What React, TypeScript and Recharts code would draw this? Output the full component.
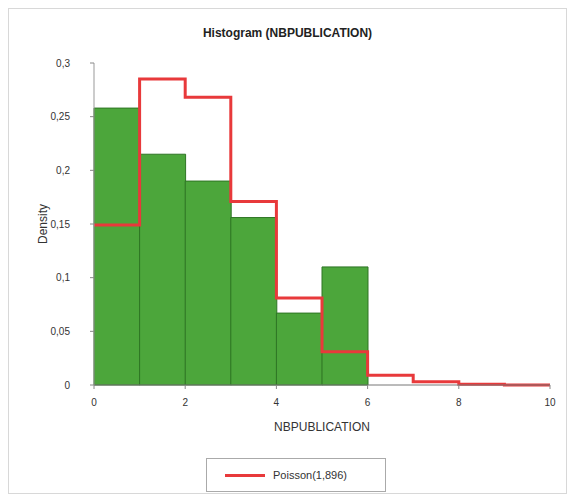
import { ComposedChart, Bar, Line, XAxis, YAxis } from 'recharts'

const binLabels = ['0-1', '1-2', '2-3', '3-4', '4-5', '5-6', '6-7', '7-8', '8-9', '9-10']
const densityValues = [0.258, 0.215, 0.19, 0.156, 0.067, 0.11, 0, 0, 0, 0]

const edgePoints = [0, 1, 2, 3, 4, 5, 6, 7, 8, 9, 10]
const poissonValues = [0.149, 0.285, 0.268, 0.171, 0.081, 0.031, 0.009, 0.003, 0.0007, 0.0001, 0.0001]

const xTicks = [0, 2, 4, 6, 8, 10]
const yTicks = [0, 0.05, 0.1, 0.15, 0.2, 0.25, 0.3]

const histData = binLabels.map((b, i) => ({ bin: b, density: densityValues[i] }))
const stepData = edgePoints.map((x, i) => ({ x, p: poissonValues[i] }))

const fmtComma = (v: number) => String(v).replace('.', ',')
const tickStyle = { fill: '#333', fontSize: 10, fontFamily: 'Liberation Sans, Arial, sans-serif' }

export default function App() {
  return (
    <div style={{
      position: 'relative', width: 557, height: 484, border: '1px solid #d8d8d8',
      fontFamily: 'Liberation Sans, Arial, sans-serif', background: '#fff',
    }}>
      <div style={{
        position: 'absolute', top: 17, left: 0, width: 557, textAlign: 'center',
        fontSize: 12, fontWeight: 'bold', color: '#222',
      }}>
        Histogram (NBPUBLICATION)
      </div>
      <ComposedChart width={557} height={484} data={histData}
        margin={{ top: 54, right: 16, left: 34, bottom: 78 }}
        barCategoryGap={0} barGap={0}>
        <XAxis xAxisId="cat" dataKey="bin" type="category" hide height={0} />
        <XAxis xAxisId="num" dataKey="x" type="number" domain={[0, 10]} ticks={xTicks}
          allowDataOverflow tick={tickStyle} tickLine={{ stroke: '#888' }} tickSize={4} tickMargin={10}
          axisLine={{ stroke: '#777' }} height={30}
          label={{ value: 'NBPUBLICATION', position: 'insideBottom', offset: -16, fill: '#333', fontSize: 12 }} />
        <XAxis xAxisId="top" type="number" domain={[0, 10]} orientation="top" height={0}
          tick={false} tickLine={false} axisLine={{ stroke: '#c8c8c8' }} />
        <YAxis yAxisId="left" domain={[0, 0.3]} ticks={yTicks} tickFormatter={fmtComma}
          tick={tickStyle} tickLine={{ stroke: '#888' }} tickSize={4} tickMargin={20} axisLine={{ stroke: '#999' }} width={51}
          label={{ value: 'Density', angle: -90, position: 'insideLeft', offset: 0, fill: '#333', fontSize: 12, dy: 20 }} />
        <YAxis yAxisId="right" orientation="right" domain={[0, 0.3]} width={0}
          tick={false} tickLine={false} axisLine={{ stroke: '#c8c8c8' }} />
        <Bar xAxisId="cat" yAxisId="left" dataKey="density" fill="#4ca63b" stroke="#2e7524"
          strokeWidth={1} isAnimationActive={false} />
        <Line xAxisId="num" yAxisId="left" data={stepData} dataKey="p" type="stepAfter"
          stroke="#e8393b" strokeWidth={3} dot={false} activeDot={false} isAnimationActive={false} />
      </ComposedChart>
      <div style={{
        position: 'absolute', left: 197, top: 449, width: 180, height: 34,
        border: '1px solid #aaa', display: 'flex', alignItems: 'center', boxSizing: 'border-box',
      }}>
        <div style={{ width: 40, height: 3, background: '#e8393b', marginLeft: 18, marginRight: 8 }} />
        <span style={{ fontSize: 11, color: '#333' }}>Poisson(1,896)</span>
      </div>
    </div>
  )
}
